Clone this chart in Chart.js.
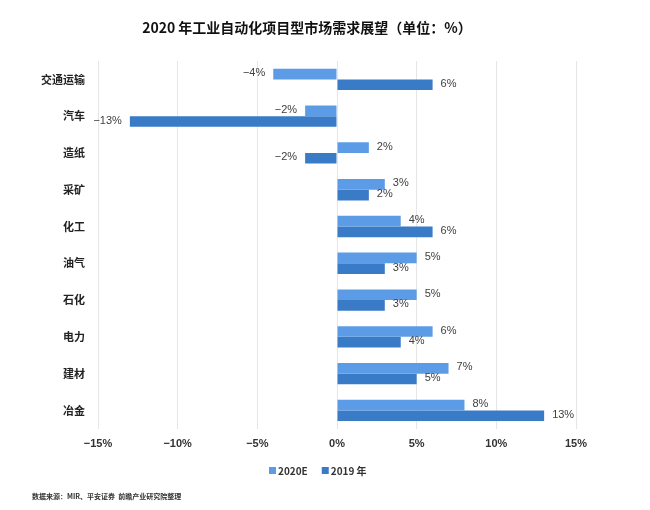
<!DOCTYPE html>
<html>
<head>
<meta charset="utf-8">
<script src="https://cdn.jsdelivr.net/npm/chart.js@4/dist/chart.umd.min.js"></script>
<style>
html,body{margin:0;padding:0;background:#fff;}
#wrap{width:650px;height:510px;position:relative;}
</style>
</head>
<body>
<div id="wrap"><canvas id="c" width="650" height="510"></canvas></div>
<script>
const categories = ['交通运输','汽车','造纸','采矿','化工','油气','石化','电力','建材','冶金'];
const values2020E = [-4, -2, 2, 3, 4, 5, 5, 6, 7, 8];
const values2019 = [6, -13, -2, 2, 6, 3, 3, 4, 5, 13];
const seriesNames = ['2020E', '2019 年'];
const seriesColors = ['#5c9ce6', '#3a7bc8'];
const xTicks = [-15, -10, -5, 0, 5, 10, 15];
const titleText = '2020 年工业自动化项目型市场需求展望（单位：%）';
const footerText = '数据来源：MIR、平安证券  前瞻产业研究院整理';

const fmt = v => (v < 0 ? '\u2212' + Math.abs(v) : String(v)) + '%';

const valueLabels = {
  id: 'valueLabels',
  afterDatasetsDraw(chart) {
    const ctx = chart.ctx;
    ctx.save();
    ctx.font = '11px "Liberation Sans", Arial, sans-serif';
    ctx.fillStyle = '#404040';
    ctx.textBaseline = 'middle';
    chart.data.datasets.forEach((ds, i) => {
      const meta = chart.getDatasetMeta(i);
      meta.data.forEach((bar, j) => {
        const v = ds.data[j];
        if (v < 0) { ctx.textAlign = 'right'; ctx.fillText(fmt(v), bar.x - 8, bar.y - 1); }
        else { ctx.textAlign = 'left'; ctx.fillText(fmt(v), bar.x + 8, bar.y - 1); }
      });
    });
    ctx.restore();
  }
};

const decorations = {
  id: 'decorations',
  afterDraw(chart) {
    const ctx = chart.ctx;
    ctx.save();
    // title
    ctx.font = 'bold 14px "Noto Sans CJK SC", sans-serif';
    ctx.fillStyle = '#111';
    ctx.textAlign = 'center';
    ctx.textBaseline = 'middle';
    ctx.fillText(titleText, 307, 28);
    // legend
    ctx.font = 'bold 10px "Noto Sans CJK SC", sans-serif';
    ctx.textAlign = 'left';
    let x = 269;
    const y = 471;
    chart.data.datasets.forEach((ds, i) => {
      ctx.fillStyle = ds.backgroundColor;
      ctx.fillRect(x, y - 4, 7, 7);
      ctx.fillStyle = '#333';
      ctx.fillText(ds.label, x + 9, y);
      x += 9 + ctx.measureText(ds.label).width + 14;
    });
    // footer
    ctx.font = 'bold 7px "Noto Sans CJK SC", sans-serif';
    ctx.fillStyle = '#333';
    ctx.fillText(footerText, 32, 496);
    ctx.restore();
  }
};

new Chart(document.getElementById('c'), {
  type: 'bar',
  data: {
    labels: categories,
    datasets: [
      { label: seriesNames[0], data: values2020E, backgroundColor: seriesColors[0], categoryPercentage: 0.58, barPercentage: 1.0 },
      { label: seriesNames[1], data: values2019, backgroundColor: seriesColors[1], categoryPercentage: 0.58, barPercentage: 1.0 }
    ]
  },
  options: {
    indexAxis: 'y',
    responsive: false,
    animation: false,
    layout: { padding: { left: 0, right: 74, top: 61, bottom: 50 } },
    scales: {
      x: {
        min: -15, max: 15,
        afterBuildTicks(axis) { axis.ticks = xTicks.map(v => ({ value: v })); },
        ticks: {
          callback: v => fmt(v),
          font: { family: '"Liberation Sans", Arial, sans-serif', size: 11, weight: 'bold' },
          color: '#333',
          padding: 9
        },
        grid: { color: '#e6e6e6', drawTicks: false },
        border: { display: false }
      },
      y: {
        afterFit(axis) { axis.width = 98; },
        ticks: {
          font: { family: '"Noto Sans CJK SC", sans-serif', size: 11, weight: 'bold' },
          color: '#222',
          padding: 13
        },
        grid: { display: false, drawTicks: false },
        border: { display: false }
      }
    },
    plugins: {
      title: { display: false },
      legend: { display: false },
      tooltip: { enabled: false }
    }
  },
  plugins: [valueLabels, decorations]
});
</script>
</body>
</html>
